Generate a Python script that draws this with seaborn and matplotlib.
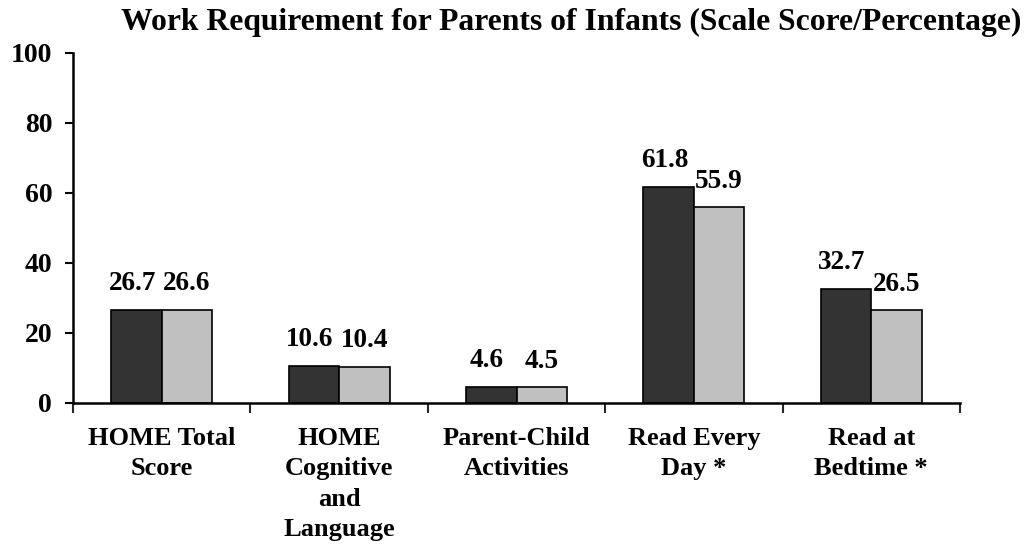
import matplotlib
matplotlib.use("Agg")
import matplotlib.pyplot as plt
import seaborn as sns
import pandas as pd
import numpy as np

categories = [
    "HOME Total\nScore",
    "HOME\nCognitive\nand\nLanguage",
    "Parent-Child\nActivities",
    "Read Every\nDay *",
    "Read at\nBedtime *",
]
group_a = [26.7, 10.6, 4.6, 61.8, 32.7]
group_b = [26.6, 10.4, 4.5, 55.9, 26.5]
series_names = ["Work requirement", "Comparison"]
y_ticks = [0, 20, 40, 60, 80, 100]
title = "Work Requirement for Parents of Infants (Scale Score/Percentage)"

df = pd.DataFrame({
    "category": categories * 2,
    "value": group_a + group_b,
    "group": [series_names[0]] * len(categories) + [series_names[1]] * len(categories),
})

sns.set_theme(style="white")
plt.rcParams["font.family"] = ["Liberation Serif", "DejaVu Serif"]
plt.rcParams["font.weight"] = "bold"

fig = plt.figure(figsize=(10.34, 5.55), dpi=100)
ax = fig.add_axes([73 / 1034, 1 - 403 / 555, (960 - 73) / 1034, 350 / 555])

sns.barplot(
    data=df, x="category", y="value", hue="group", order=categories,
    hue_order=series_names, palette=["#333333", "#c0c0c0"],
    width=0.57, gap=0, edgecolor="black", linewidth=1.2,
    saturation=1, legend=False, ax=ax,
)

# value labels above each bar (first series nudged left so neighbours don't touch)
for idx, container in enumerate(ax.containers):
    dx = -3 if idx == 0 else 0
    for bar in container:
        h = bar.get_height()
        ax.annotate(f"{h:.1f}", (bar.get_x() + bar.get_width() / 2, h),
                    xytext=(dx, 14), textcoords="offset points",
                    ha="center", va="baseline", fontsize=19.5,
                    fontweight="bold", color="black")

ax.set_ylim(0, 100)
ax.set_xlim(-0.5, len(categories) - 0.5)
ax.set_yticks(y_ticks)
ax.set_yticklabels([str(t) for t in y_ticks], fontsize=20, fontweight="bold")
ax.tick_params(axis="y", direction="out", length=6, width=1.5, pad=9, left=True, colors="black")

ax.set_xticks(range(len(categories)))
ax.set_xticklabels(categories, fontsize=19, fontweight="bold", linespacing=1.42)
ax.tick_params(axis="x", which="major", length=0, pad=17, colors="black")
ax.set_xticks(np.arange(-0.5, len(categories)), minor=True)
ax.tick_params(axis="x", which="minor", direction="out", length=7, width=1.5, bottom=True)

ax.set_xlabel("")
ax.set_ylabel("")
for side in ["top", "right"]:
    ax.spines[side].set_visible(False)
for side in ["left", "bottom"]:
    ax.spines[side].set_color("black")
    ax.spines[side].set_linewidth(1.8)

fig.text(571 / 1034, 1 - 22 / 555, title, ha="center", va="center",
         fontsize=22.8, fontweight="bold", color="black")

fig.savefig("out.png", dpi=100, facecolor="white")
